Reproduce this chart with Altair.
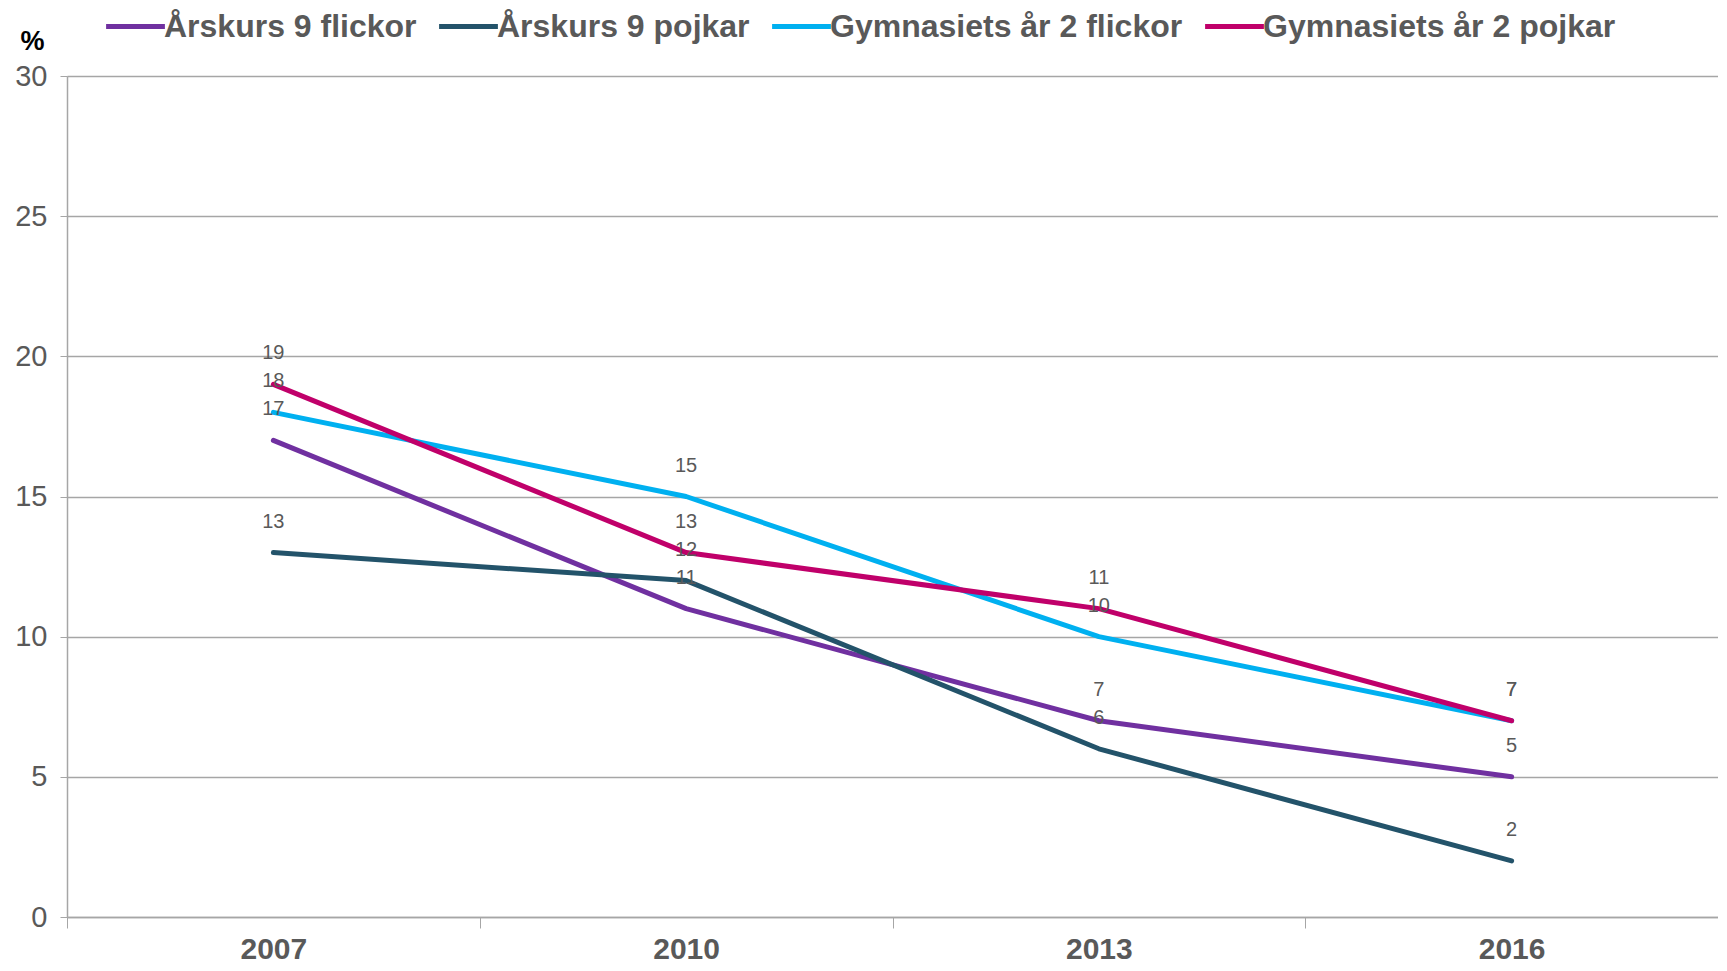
import altair as alt
import pandas as pd

years = ["2007", "2010", "2013", "2016"]
series = ["Årskurs 9 flickor", "Årskurs 9 pojkar", "Gymnasiets år 2 flickor", "Gymnasiets år 2 pojkar"]
ak9_flickor = [17, 11, 7, 5]
ak9_pojkar = [13, 12, 6, 2]
gy2_flickor = [18, 15, 10, 7]
gy2_pojkar = [19, 13, 11, 7]
colors = ["#7030A0", "#23536A", "#00B0F0", "#C0006A"]
y_ticks = [0, 5, 10, 15, 20, 25, 30]

values = [ak9_flickor, ak9_pojkar, gy2_flickor, gy2_pojkar]
rows = []
for s_i, (name, vals) in enumerate(zip(series, values)):
    for y, v in zip(years, vals):
        rows.append({"year": y, "series": name, "value": v, "order": s_i})
df = pd.DataFrame(rows)

FONT = "Liberation Sans"
GRAY = "#A6A6A6"
TXT = "#595959"

x = alt.X(
    "year:N",
    sort=years,
    scale=alt.Scale(type="band", paddingInner=0, paddingOuter=0),
    axis=alt.Axis(
        title=None, labelAngle=0, labelFont=FONT, labelFontSize=30, labelFontWeight="bold",
        labelColor=TXT, labelPadding=6, tickBand="extent", tickSize=11, tickColor=GRAY,
        domainColor=GRAY, domainWidth=1.5, grid=False, labelBaseline="top",
    ),
)
y = alt.Y(
    "value:Q",
    scale=alt.Scale(domain=[0, 30], nice=False),
    axis=alt.Axis(
        values=y_ticks, title="%", titleAngle=0, titleX=-35, titleY=-35, titleAlign="center",
        titleBaseline="middle", titleFont=FONT, titleFontSize=27, titleFontWeight="bold",
        titleColor="#000000", labelFont=FONT, labelFontSize=29, labelColor=TXT,
        labelPadding=13, tickSize=7, tickColor=GRAY, domainColor=GRAY, domainWidth=1.5,
        grid=True, gridColor=GRAY, gridWidth=1.5,
    ),
)

lines = alt.Chart(df).mark_line(strokeWidth=5, strokeCap="round", strokeJoin="round").encode(
    x=x,
    y=y,
    color=alt.Color(
        "series:N",
        scale=alt.Scale(domain=series, range=colors),
        legend=alt.Legend(
            title=None, orient="none", direction="horizontal", legendX=52, legendY=-66,
            symbolType="M-2.1,0H2.1", symbolSize=784, symbolStrokeWidth=5, labelOffset=12,
            columnPadding=12, labelFont=FONT, labelFontSize=32, labelFontWeight="bold",
            labelColor=TXT, labelLimit=600, gridAlign="none",
        ),
    ),
    order="order:Q",
    detail="series:N",
)

labels = alt.Chart(df).mark_text(
    dy=-31, font=FONT, fontSize=20, color=TXT, baseline="middle", align="center"
).encode(x=x, y=y, text="value:Q")

chart = alt.layer(lines, labels).properties(
    width=1651, height=841,
    autosize=alt.AutoSizeParams(type="none"),
    padding={"left": 59, "top": 68, "right": 0, "bottom": 46},
).configure_view(stroke=None).configure(background="white")

chart.save("out.html", embed_options={"renderer": "svg", "actions": False})
